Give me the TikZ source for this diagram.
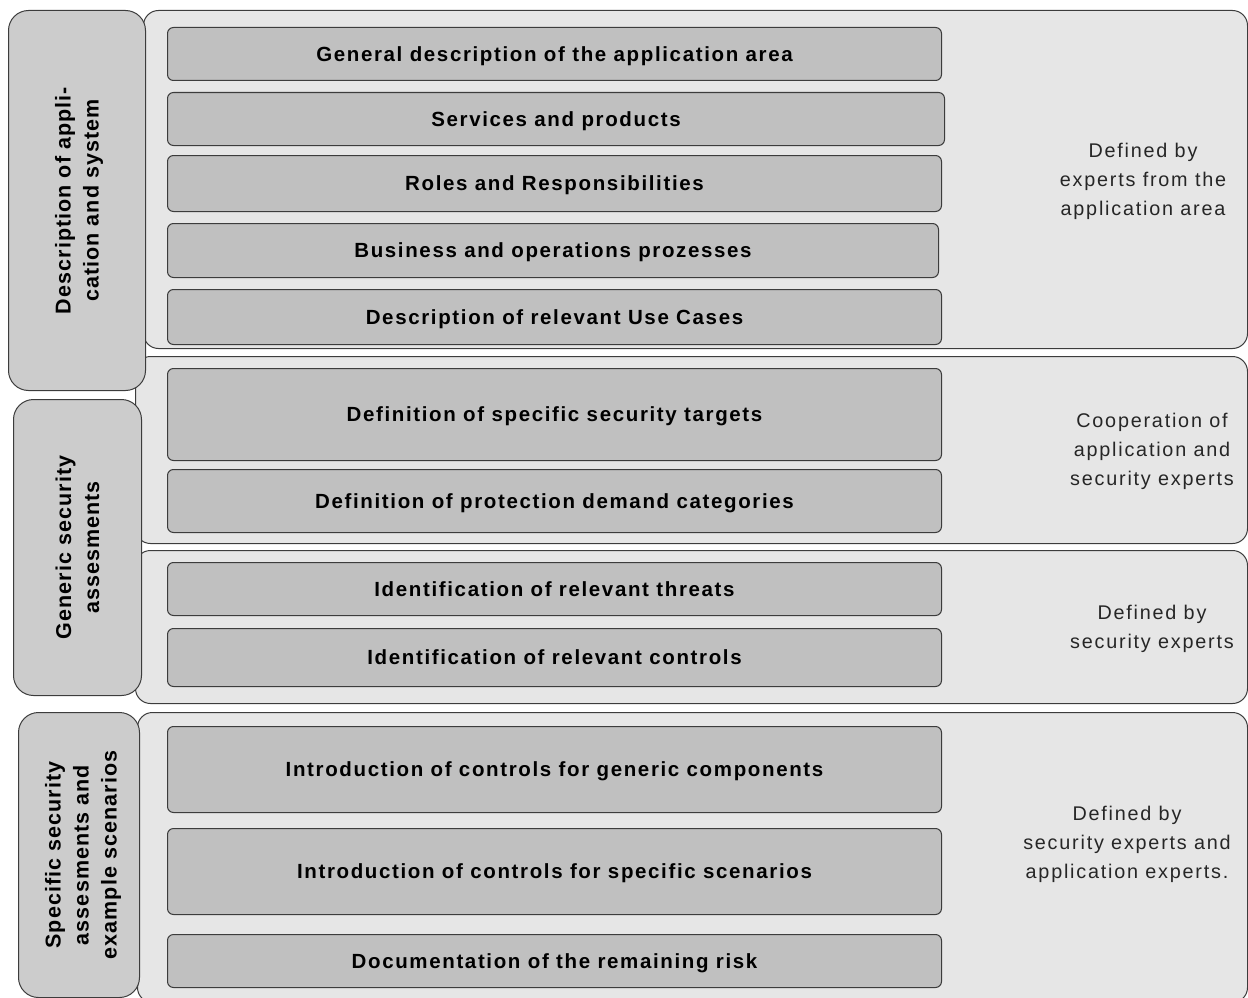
\documentclass[tikz,border=0pt]{standalone}
\usepackage{fontspec}
\setmainfont{Liberation Sans}
\newfontfamily\boxfont[LetterSpace=8]{Liberation Sans}
\newfontfamily\sidefont[LetterSpace=5]{Liberation Sans}
\newfontfamily\notefont[LetterSpace=9]{Liberation Sans}
\definecolor{panelgray}{HTML}{E6E6E6}
\definecolor{boxgray}{HTML}{C0C0C0}
\definecolor{sidegray}{HTML}{CCCCCC}
\definecolor{edgegray}{HTML}{3C3C3C}
\tikzset{
  panel/.style={draw=edgegray, line width=1pt, fill=panelgray, rounded corners=15pt, anchor=north west, inner sep=0pt},
  stage/.style={draw=edgegray, line width=1pt, fill=sidegray, rounded corners=20pt, anchor=north west, inner sep=0pt},
  task/.style={draw=edgegray, line width=1pt, fill=boxgray, rounded corners=6pt, anchor=north west, inner sep=0pt,
    minimum width=774pt, text depth=0pt, font=\boxfont\bfseries\fontsize{20.5}{24}\selectfont},
  stagelabel/.style={rotate=90, align=center, font=\sidefont\bfseries\fontsize{21.5}{28}\selectfont},
  note/.style={align=center, font=\notefont\fontsize{19.8}{29}\selectfont, text=black!85}
}
\begin{document}
\begin{tikzpicture}[x=1pt,y=-1pt]
  \useasboundingbox (0,0) rectangle (1248,998);

  % background panels
  \node[panel, minimum width=1104pt, minimum height=338pt] (appl) at (143,10) {};
  \node[panel, minimum width=1112pt, minimum height=187pt] (coop) at (135,356) {};
  \node[panel, minimum width=1112pt, minimum height=153pt] (sec) at (135,550) {};
  \node[panel, minimum width=1110pt, minimum height=290pt] (spec) at (137,712) {};

  % stages on the left
  \node[stage, minimum width=137pt, minimum height=380pt] (s1) at (8,10) {};
  \node[stage, minimum width=128pt, minimum height=296pt] (s2) at (13,399) {};
  \node[stage, minimum width=121pt, minimum height=285pt] (s3) at (18,712) {};
  \node[stagelabel] at ([xshift=2pt]s1.center) {Description of appli-\\cation and system};
  \node[stagelabel] at (s2.center) {Generic security\\assesments};
  \node[stagelabel] at ([xshift=4pt]s3.center) {Specific security\\assesments and\\example scenarios};

  % tasks
  \node[task, minimum height=53pt] (t1) at (167,27) {General description of the application area};
  \node[task, minimum height=53pt, minimum width=777pt] (t2) at (167,92) {Services and products};
  \node[task, minimum height=56pt] (t3) at (167,155) {Roles and Responsibilities};
  \node[task, minimum height=54pt, minimum width=771pt] (t4) at (167,223) {Business and operations prozesses};
  \node[task, minimum height=55pt] (t5) at (167,289) {Description of relevant Use Cases};
  \node[task, minimum height=92pt] (t6) at (167,368) {Definition of specific security targets};
  \node[task, minimum height=63pt] (t7) at (167,469) {Definition of protection demand categories};
  \node[task, minimum height=53pt] (t8) at (167,562) {Identification of relevant threats};
  \node[task, minimum height=58pt] (t9) at (167,628) {Identification of relevant controls};
  \node[task, minimum height=86pt] (t10) at (167,726) {Introduction of controls for generic components};
  \node[task, minimum height=86pt] (t11) at (167,828) {Introduction of controls for specific scenarios};
  \node[task, minimum height=53pt] (t12) at (167,934) {Documentation of the remaining risk};

  % responsibilities
  \node[note] (n1) at (1143,181) {Defined by\\experts from the\\application area};
  \node[note] (n2) at (1152,451) {Cooperation of\\application and\\security experts};
  \node[note] (n3) at (1152,629) {Defined by\\security experts};
  \node[note] (n4) at (1127,844) {Defined by\\security experts and\\application experts.};
\end{tikzpicture}
\end{document}
